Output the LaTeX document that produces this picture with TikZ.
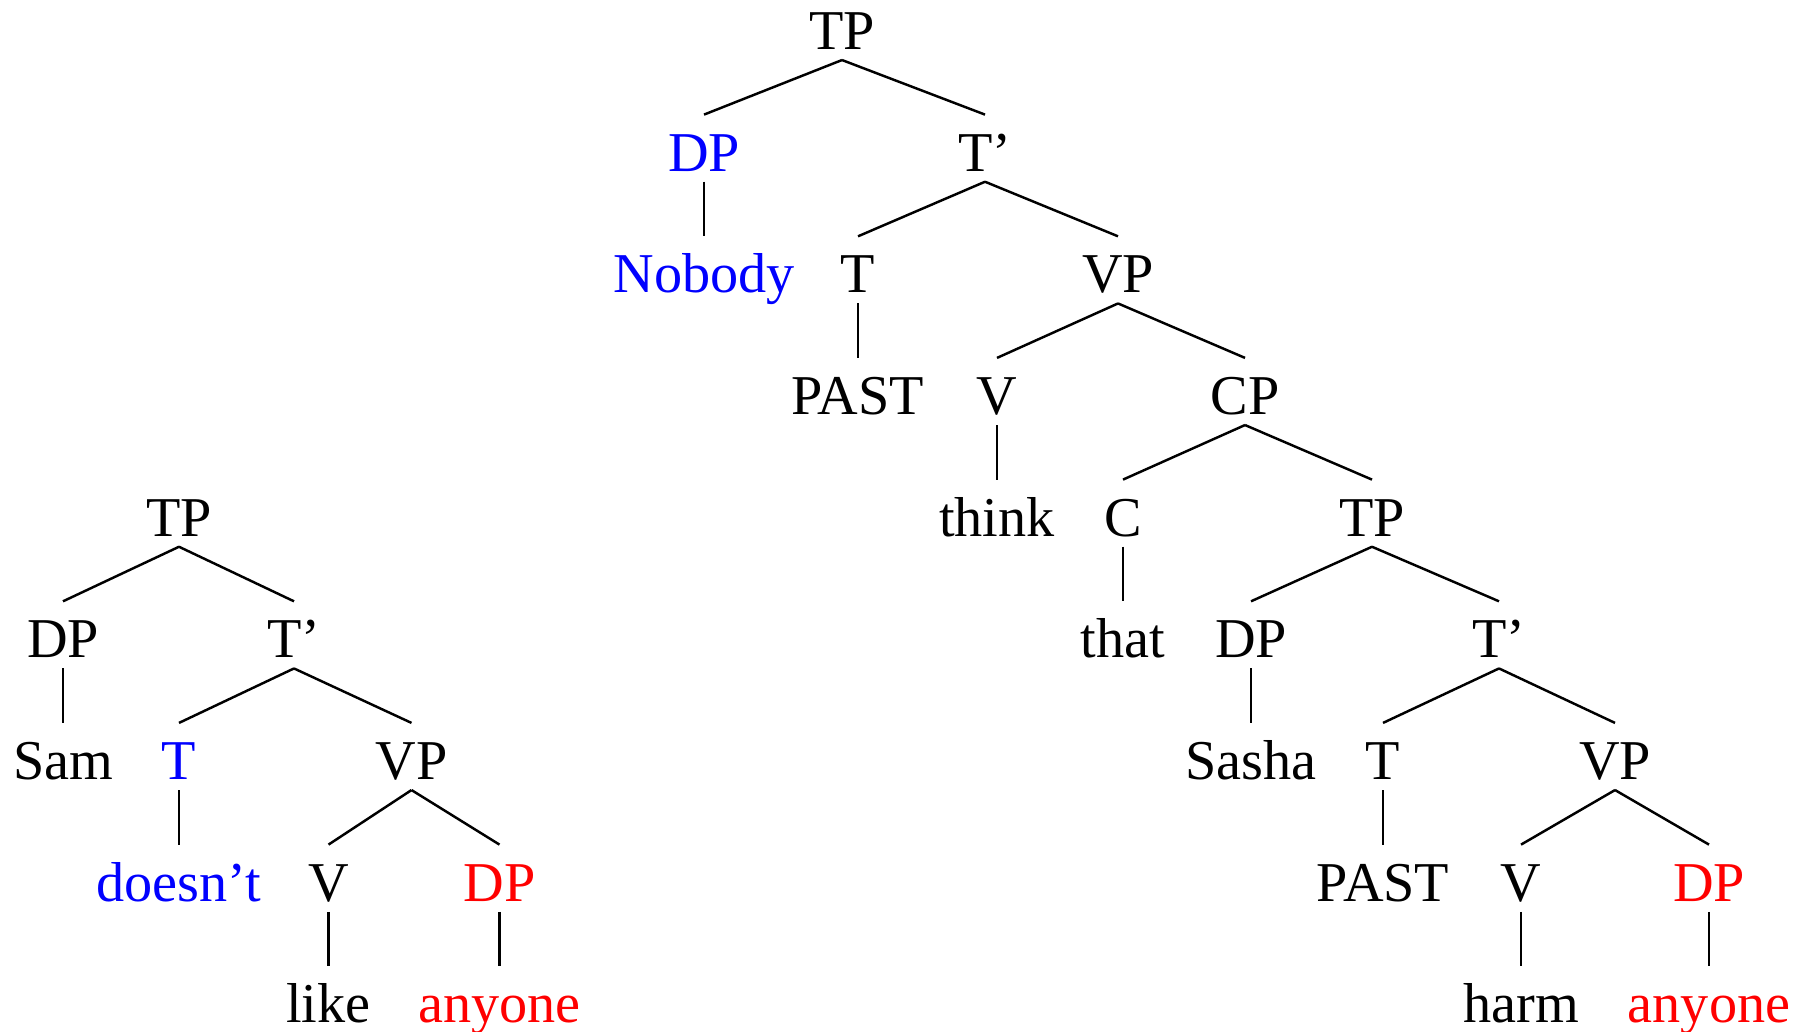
\documentclass[tikz,border=0pt]{standalone}
\usepackage{fontspec}
\setmainfont{Liberation Serif}

\begin{document}
\begin{tikzpicture}[x=0.1mm, y=-0.1mm,
  lbl/.style={inner sep=0pt, anchor=base, text height=15.85pt, text depth=2.85pt,
    font=\fontsize{16}{20}\selectfont},
  branch/.style={line width=0.7pt}]
  % Fix the page size
  \useasboundingbox (0,0) rectangle (1809,1031);

  % Draw the big tree (Nobody ... anyone)
  \node[lbl] (tp) at (842,49.3) {TP};
  \node[lbl, blue] (dp) at (704,171) {DP};
  \node[lbl] (tbar) at (985,171) {T’};
  \node[lbl, blue] (nobody) at (704,292.7) {Nobody};
  \node[lbl] (t) at (858,292.7) {T};
  \node[lbl] (vp) at (1118,292.7) {VP};
  \node[lbl] (past) at (858,414.3) {PAST};
  \node[lbl] (v) at (997,414.3) {V};
  \node[lbl] (cp) at (1245,414.3) {CP};
  \node[lbl] (think) at (997,536) {think};
  \node[lbl] (c) at (1123,536) {C};
  \node[lbl] (tpb) at (1372,536) {TP};
  \node[lbl] (that) at (1123,657.7) {that};
  \node[lbl] (dpb) at (1251,657.7) {DP};
  \node[lbl] (tbarb) at (1499,657.7) {T’};
  \node[lbl] (sasha) at (1251,779.3) {Sasha};
  \node[lbl] (tb) at (1383,779.3) {T};
  \node[lbl] (vpb) at (1615,779.3) {VP};
  \node[lbl] (pastb) at (1383,901) {PAST};
  \node[lbl] (vb) at (1521,901) {V};
  \node[lbl, red] (dpc) at (1709,901) {DP};
  \node[lbl] (harm) at (1521,1022.7) {harm};
  \node[lbl, red] (anyone) at (1709,1022.7) {anyone};

  % Draw the small tree (Sam ... anyone)
  \node[lbl] (stp) at (179,536) {TP};
  \node[lbl] (sdp) at (63,657.7) {DP};
  \node[lbl] (stbar) at (294,657.7) {T’};
  \node[lbl] (sam) at (63,779.3) {Sam};
  \node[lbl, blue] (st) at (179,779.3) {T};
  \node[lbl] (svp) at (411.5,779.3) {VP};
  \node[lbl, blue] (doesnt) at (179,901) {doesn’t};
  \node[lbl] (sv) at (328.5,901) {V};
  \node[lbl, red] (sdpb) at (499.5,901) {DP};
  \node[lbl] (like) at (328.5,1022.7) {like};
  \node[lbl, red] (sanyone) at (499.5,1022.7) {anyone};

  % Draw the branches
  \foreach \a/\b in {tp/dp, tp/tbar, dp/nobody, tbar/t, tbar/vp, t/past, vp/v, vp/cp,
      v/think, cp/c, cp/tpb, c/that, tpb/dpb, tpb/tbarb, dpb/sasha, tbarb/tb, tbarb/vpb,
      tb/pastb, vpb/vb, vpb/dpc, vb/harm, dpc/anyone,
      stp/sdp, stp/stbar, sdp/sam, stbar/st, stbar/svp, st/doesnt, svp/sv, svp/sdpb,
      sv/like, sdpb/sanyone}
    \draw[branch] (\a.south) -- (\b.north);
\end{tikzpicture}
\end{document}
